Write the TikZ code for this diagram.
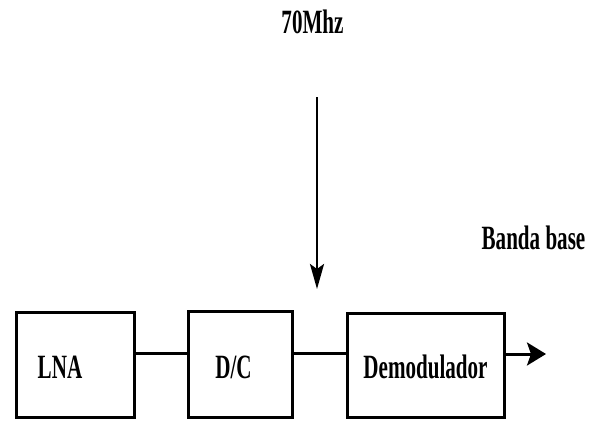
\documentclass[tikz,border=0pt]{standalone}
\usepackage{fontspec}
\setmainfont{Liberation Serif}
\usetikzlibrary{arrows.meta}
\newcommand{\cond}[1]{\scalebox{0.62}[1]{#1}}
\begin{document}
\begin{tikzpicture}[x=1pt,y=-1pt,
  blk/.style={draw,line width=3pt,inner sep=0pt},
  lbl/.style={font=\bfseries\fontsize{34}{38}\selectfont,inner sep=0pt},
  wire/.style={line width=3pt},
  harr/.style={line width=3pt,-{Stealth[length=19pt,width=23pt,inset=4pt]}},
  varr/.style={line width=2.6pt,-{Stealth[length=25pt,width=14pt,inset=5pt]}}]
\useasboundingbox (0,0) rectangle (601,420);
\node[blk,minimum width=118pt,minimum height=105pt] (lna) at (75,364.5) {};
\node[lbl] at (60,367) {\cond{LNA}};
\node[blk,minimum width=104pt,minimum height=106pt] (dc) at (240,364) {};
\node[lbl] at (233.5,367) {\cond{D/C}};
\node[blk,minimum width=157pt,minimum height=104pt] (dem) at (425.5,365) {};
\node[lbl] at (425.5,367) {\cond{Demodulador}};
\coordinate (out) at (546,354);
\draw[wire] (lna.east |- 0,353) -- (dc.west |- 0,353);
\draw[wire] (dc.east |- 0,353) -- (dem.west |- 0,353);
\draw[harr] (dem.east |- 0,354) -- (out);
\node[lbl] (f) at (312.5,22) {\cond{70Mhz}};
\coordinate (top) at (317,97);
\coordinate (tip) at (317,289);
\draw[varr] (top) -- (tip);
\node[lbl] (bb) at (533.5,238) {\cond{Banda base}};
\end{tikzpicture}
\end{document}
